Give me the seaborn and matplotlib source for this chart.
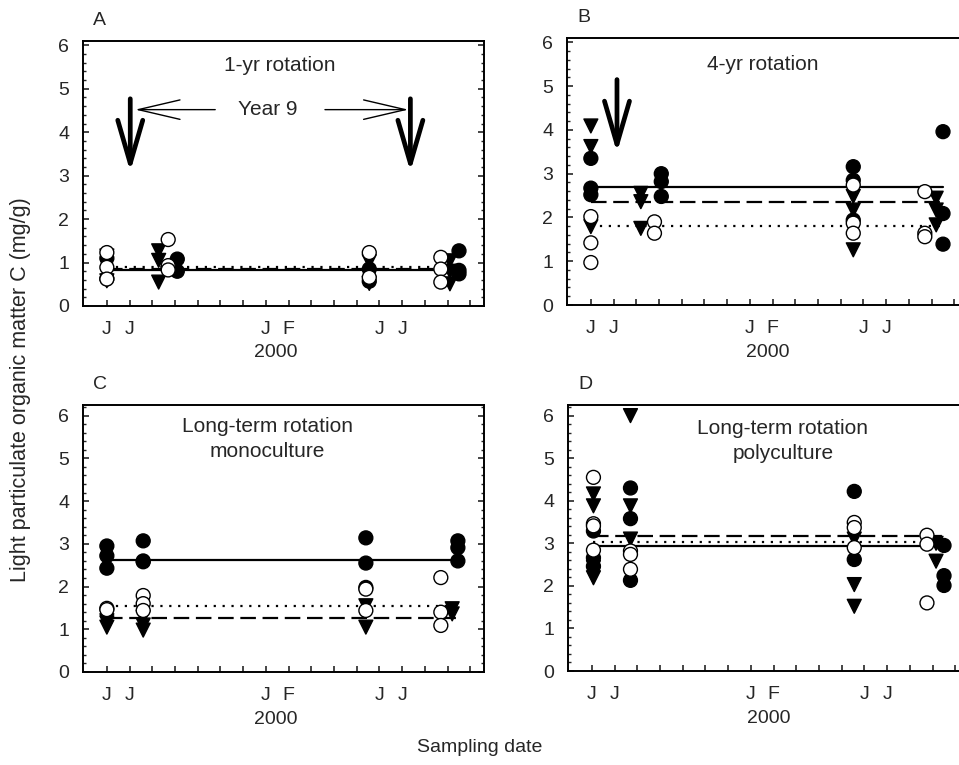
import pandas as pd
import seaborn as sns
import matplotlib.pyplot as plt
from matplotlib.ticker import MultipleLocator, FixedLocator, FixedFormatter

# x axis = months after June 1999 (0 = June 1999 ... 16 = October 2000)
month_ticks = list(range(17))
month_labels = ['J', 'J', '', '', '', '', '', 'J', 'F', '', '', '', 'J', 'J', '', '', '']

# filled circles -> solid mean line, open circles -> dotted, triangles -> dashed
# A: 1-yr rotation
a_filled_x = [0.0, 3.1, 11.55, 15.5]
a_filled_y = [[0.63, 1.1], [1.08, 0.8], [0.57, 0.85], [1.27, 0.82, 0.74]]
a_open_x = [0.0, 2.7, 11.55, 14.7]
a_open_y = [[1.23, 0.89, 0.62], [1.53, 0.93, 0.83], [1.23, 0.66], [1.12, 0.85, 0.55]]
a_tri_x = [0.0, 2.28, 11.55, 15.1]
a_tri_y = [[1.15, 0.58], [1.27, 1.05, 0.55], [1.02, 0.52], [1.04, 0.8, 0.51]]
a_means = [0.84, 0.9, 0.86]

# B: 4-yr rotation
b_filled_x = [0.0, 3.1, 11.55, 15.5]
b_filled_y = [[3.35, 2.67, 2.52], [3.0, 2.82, 2.48], [3.16, 2.85, 1.94], [3.96, 2.09, 1.39]]
b_open_x = [0.0, 2.8, 11.55, 14.7]
b_open_y = [[2.02, 1.42, 0.97], [1.9, 1.64], [2.74, 1.87, 1.64], [2.59, 1.64, 1.56]]
b_tri_x = [0.0, 2.2, 11.55, 15.2]
b_tri_y = [[4.09, 3.62, 1.79], [2.55, 2.36, 1.75], [2.48, 2.17, 1.26], [2.44, 2.17, 1.83]]
b_means = [2.69, 1.81, 2.36]

# C: long-term rotation, monoculture
c_filled_x = [0.0, 1.6, 11.4, 15.45]
c_filled_y = [[2.95, 2.72, 2.43], [3.07, 2.6, 2.58], [3.14, 2.55, 1.98], [3.07, 2.91, 2.6]]
c_open_x = [0.0, 1.6, 11.4, 14.7]
c_open_y = [[1.49, 1.46], [1.79, 1.6, 1.44], [1.94, 1.44], [2.21, 1.4, 1.09]]
c_tri_x = [0.0, 1.6, 11.4, 15.2]
c_tri_y = [[1.2, 1.15, 1.05], [1.28, 1.1, 0.98], [1.55, 1.05], [1.48, 1.36]]
c_means = [2.62, 1.54, 1.26]

# D: long-term rotation, polyculture
d_filled_x = [0.07, 1.7, 11.55, 15.5]
d_filled_y = [[3.29, 2.66, 2.46], [4.3, 3.58, 2.13], [4.22, 2.62], [2.95, 2.24, 2.01]]
d_open_x = [0.07, 1.7, 11.55, 14.75]
d_open_y = [[4.55, 3.46, 3.41, 2.84], [2.82, 2.74, 2.39], [3.49, 3.37, 2.9], [3.19, 2.98, 1.6]]
d_tri_x = [0.07, 1.7, 11.55, 15.15]
d_tri_y = [[4.16, 3.88, 2.43, 2.19], [6.0, 3.88, 3.1], [3.1, 2.03, 1.52], [3.0, 2.58]]
d_means = [2.94, 3.03, 3.17]

panel_titles = ['1-yr rotation', '4-yr rotation',
                'Long-term rotation\nmonoculture', 'Long-term rotation\npolyculture']


def long_table(series):
    rows = []
    for name, xs, ys in series:
        for x, vals in zip(xs, ys):
            for v in vals:
                rows.append({'month': x, 'C': v, 'trt': name})
    return pd.DataFrame(rows)


sns.set_theme(style='ticks')
plt.rcParams['font.family'] = ['Liberation Sans', 'DejaVu Sans']
plt.rcParams['font.size'] = 14

fig = plt.figure(figsize=(9.59, 7.65), dpi=100)
W, H = 959, 765
# axes boxes in pixels: left, top, right, bottom
boxes = [(83, 41, 484, 306), (567, 38, 968, 305), (83, 405, 484, 672), (568, 405, 969, 671)]
ytops = [6.1, 6.1, 6.25, 6.25]

data = [
    [('filled', a_filled_x, a_filled_y), ('tri', a_tri_x, a_tri_y), ('open', a_open_x, a_open_y)],
    [('filled', b_filled_x, b_filled_y), ('tri', b_tri_x, b_tri_y), ('open', b_open_x, b_open_y)],
    [('filled', c_filled_x, c_filled_y), ('tri', c_tri_x, c_tri_y), ('open', c_open_x, c_open_y)],
    [('filled', d_filled_x, d_filled_y), ('tri', d_tri_x, d_tri_y), ('open', d_open_x, d_open_y)],
]
means = [a_means, b_means, c_means, d_means]
letters = ['A', 'B', 'C', 'D']
title_pos = [(0.49, 0.906), (0.489, 0.9), (0.459, 0.873), (0.536, 0.866)]
year_x = [0.48, 0.5, 0.48, 0.5]

line_styles = ['-', (0, (1, 3)), (0, (7, 3))]
palette = {'filled': 'black', 'open': 'white', 'tri': 'black'}
markers = {'filled': 'o', 'open': 'o', 'tri': 'v'}

axes = []
for i in range(4):
    l, t, r, b = boxes[i]
    ax = fig.add_axes([l / W, 1 - b / H, (r - l) / W, (b - t) / H])
    axes.append(ax)
    df = long_table(data[i])

    # mean lines (filled, open, triangles)
    x0, x1 = df['month'].min(), df['month'].max()
    for m, ls in zip(means[i], line_styles):
        ax.plot([x0, x1], [m, m], color='black', lw=1.6, ls=ls, zorder=2)

    sns.scatterplot(data=df, x='month', y='C', hue='trt', style='trt',
                    palette=palette, markers=markers, s=100,
                    edgecolor='black', linewidth=1.0, legend=False, ax=ax, zorder=3)

    ax.set_xlim(-1.05, 16.6)
    ax.set_ylim(0, ytops[i])
    ax.xaxis.set_major_locator(FixedLocator(month_ticks))
    ax.xaxis.set_major_formatter(FixedFormatter(month_labels))
    ax.yaxis.set_major_locator(MultipleLocator(1))
    ax.yaxis.set_minor_locator(MultipleLocator(0.2))
    ax.tick_params(axis='x', which='major', direction='in', length=4, width=1.2,
                   top=False, labelsize=14, pad=11)
    ax.tick_params(axis='y', which='major', direction='in', length=4.5, width=1.2,
                   left=True, right=True, labelsize=14, pad=10)
    ax.tick_params(axis='y', which='minor', direction='in', length=2.5, width=1,
                   left=True, right=True)
    for s in ax.spines.values():
        s.set_linewidth(1.4)
        s.set_color('black')
    ax.set_ylabel('')
    ax.set_xlabel('2000', fontsize=14)
    ax.xaxis.set_label_coords(year_x[i], -0.145)

    ax.text(0.025, 1.045, letters[i], transform=ax.transAxes, ha='left', va='bottom', fontsize=14)
    ax.text(title_pos[i][0], title_pos[i][1], panel_titles[i], transform=ax.transAxes,
            ha='center', va='center', fontsize=15, linespacing=1.4)

# arrows in panel A and B
axA, axB = axes[0], axes[1]
axA.text(7.1, 4.52, 'Year 9', ha='center', va='center', fontsize=15)
thin = dict(arrowstyle='->,head_length=3.0,head_width=0.7', lw=1.0, color='black',
            shrinkA=0, shrinkB=0, mutation_scale=10)
thick = dict(arrowstyle='->,head_length=3.1,head_width=0.9', lw=3.4, color='black',
             shrinkA=0, shrinkB=0, mutation_scale=10)
axA.annotate('', xy=(1.25, 4.52), xytext=(4.77, 4.52), arrowprops=thin)
axA.annotate('', xy=(13.27, 4.52), xytext=(9.6, 4.52), arrowprops=thin)
for ax, xa, ytop, ytip in [(axA, 1.03, 4.77, 3.09), (axA, 13.36, 4.77, 3.09), (axB, 1.15, 5.15, 3.48)]:
    ax.annotate('', xy=(xa, ytip), xytext=(xa, ytop), arrowprops=thick)

fig.text(21 / W, 1 - 390 / H, 'Light particulate organic matter C (mg/g)', rotation=90,
         ha='center', va='center', fontsize=15.5)
fig.text(480 / W, 1 - 748 / H, 'Sampling date', ha='center', va='center', fontsize=14)

fig.savefig('out.png', dpi=100)
